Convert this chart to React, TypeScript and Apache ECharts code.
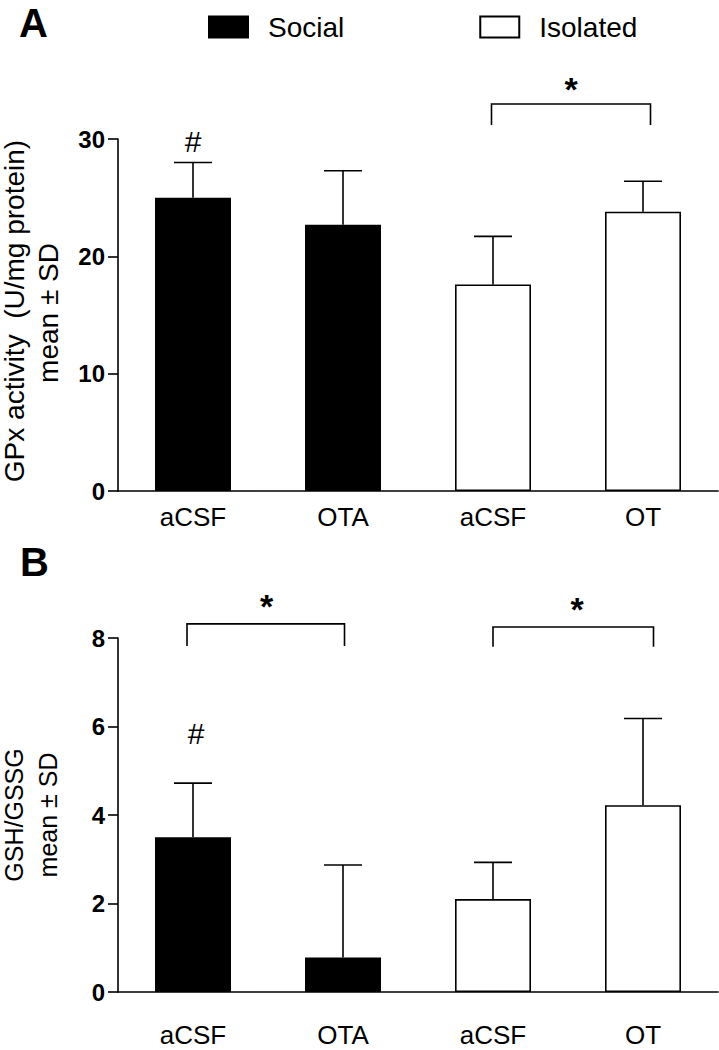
import React, { useEffect, useRef } from "react";
import * as echarts from "echarts";

const categories = ["aCSF", "OTA", "aCSF", "OT"];
const gpxSocial = [25.0, 22.7, "-", "-"];
const gpxIsolated = ["-", "-", 17.6, 23.8];
const gpxMean = [25.0, 22.7, 17.6, 23.8];
const gpxSD = [3.0, 4.6, 4.1, 2.6];
const gshSocial = [3.5, 0.78, "-", "-"];
const gshIsolated = ["-", "-", 2.1, 4.22];
const gshMean = [3.5, 0.78, 2.1, 4.22];
const gshSD = [1.22, 2.09, 0.83, 1.96];
const gpxTicks = { min: 0, max: 30, interval: 10 };
const gshTicks = { min: 0, max: 8, interval: 2 };
// brackets: [from index, to index, top value, foot value]
const gpxBrackets = [[1.99, 3.05, 32.98, 31.19]];
const gshBrackets = [
  [-0.04, 1.01, 8.32, 7.82],
  [2.0, 3.07, 8.25, 7.8],
];
// marks: [x index, value, text]
const gpxMarks: [number, number, string][] = [
  [0, 29.75, "#"],
  [2.52, 34.3, "*"],
];
const gshMarks: [number, number, string][] = [
  [0.02, 5.85, "#"],
  [0.49, 8.72, "*"],
  [2.56, 8.66, "*"],
];

const FONT = "'Liberation Sans', Arial, sans-serif";

function xAt(api: any, f: number, y: number) {
  const r = Math.round(f);
  const band = api.size([1, 0])[0];
  const p = api.coord([r, y]);
  return [p[0] + (f - r) * band, p[1]];
}

function errSeries(idx: number, mean: number[], sd: number[]) {
  return {
    type: "custom",
    xAxisIndex: idx,
    yAxisIndex: idx,
    z: 5,
    data: mean.map((m, i) => [i, m, sd[i]]),
    renderItem: (params: any, api: any) => {
      const x = api.value(0);
      const m = api.value(1);
      const s = api.value(2);
      const p0 = api.coord([x, m]);
      const p1 = api.coord([x, m + s]);
      const st = { stroke: "#000", lineWidth: 1.6 };
      return {
        type: "group",
        children: [
          { type: "line", shape: { x1: p0[0], y1: p0[1], x2: p1[0], y2: p1[1] }, style: st },
          { type: "line", shape: { x1: p1[0] - 19, y1: p1[1], x2: p1[0] + 19, y2: p1[1] }, style: st },
        ],
      };
    },
  };
}

function bracketSeries(idx: number, brackets: number[][]) {
  return {
    type: "custom",
    xAxisIndex: idx,
    yAxisIndex: idx,
    z: 5,
    data: brackets,
    renderItem: (params: any, api: any) => {
      const b = brackets[params.dataIndex];
      const a1 = xAt(api, b[0], b[2]);
      const a2 = xAt(api, b[1], b[2]);
      const f1 = xAt(api, b[0], b[3]);
      const f2 = xAt(api, b[1], b[3]);
      return {
        type: "polyline",
        shape: { points: [[f1[0], f1[1]], [a1[0], a1[1]], [a2[0], a2[1]], [f2[0], f2[1]]] },
        style: { stroke: "#000", lineWidth: 1.6, fill: null },
      };
    },
  };
}

function markSeries(idx: number, marks: [number, number, string][]) {
  return {
    type: "custom",
    xAxisIndex: idx,
    yAxisIndex: idx,
    z: 6,
    data: marks.map((m) => [m[0], m[1]]),
    renderItem: (params: any, api: any) => {
      const mk = marks[params.dataIndex];
      const p = xAt(api, mk[0], mk[1]);
      const star = mk[2] === "*";
      return {
        type: "text",
        x: p[0],
        y: p[1],
        style: {
          text: mk[2],
          fontSize: star ? 34 : 30,
          fontWeight: star ? "bold" : "normal",
          fontFamily: FONT,
          fill: "#000",
          align: "center",
          verticalAlign: "middle",
        },
      };
    },
  };
}

function barSeries(idx: number, name: string, data: any[], fill: string) {
  return {
    type: "bar",
    name,
    xAxisIndex: idx,
    yAxisIndex: idx,
    data,
    barWidth: 76,
    barGap: "-100%",
    itemStyle: { color: fill, borderColor: "#000", borderWidth: 1.6 },
  };
}

function xAxis(idx: number, tickLen: number, margin: number) {
  return {
    type: "category",
    gridIndex: idx,
    data: categories,
    axisLine: { lineStyle: { color: "#000", width: 1.6 } },
    axisTick: { alignWithLabel: true, length: tickLen, lineStyle: { color: "#000", width: 1.6 } },
    axisLabel: { color: "#000", fontSize: 26, fontFamily: FONT, margin, interval: 0 },
  };
}

function yAxis(idx: number, t: { min: number; max: number; interval: number }) {
  return {
    type: "value",
    gridIndex: idx,
    min: t.min,
    max: t.max,
    interval: t.interval,
    splitLine: { show: false },
    axisLine: { show: true, lineStyle: { color: "#000", width: 1.6 } },
    axisTick: { show: true, length: 10, lineStyle: { color: "#000", width: 1.6 } },
    axisLabel: { color: "#000", fontSize: 24, fontWeight: "bold", fontFamily: FONT, margin: 13 },
  };
}

export default function App() {
  const ref = useRef<HTMLDivElement>(null);
  useEffect(() => {
    const chart = echarts.init(ref.current!, null, { renderer: "svg" });
    chart.setOption({
      animation: false,
      backgroundColor: "#fff",
      grid: [
        { left: 118, top: 139, width: 600, height: 352 },
        { left: 118, top: 638, width: 600, height: 354 },
      ],
      legend: {
        data: ["Social", "Isolated"],
        left: 208,
        top: 13,
        padding: 0,
        icon: "rect",
        itemWidth: 39,
        itemHeight: 21,
        itemGap: 135,
        textStyle: { fontSize: 28, fontFamily: FONT, color: "#000", padding: [0, 0, 0, 15] },
      },
      xAxis: [xAxis(0, 11, 13), xAxis(1, 10, 30)],
      yAxis: [yAxis(0, gpxTicks), yAxis(1, gshTicks)],
      series: [
        barSeries(0, "Social", gpxSocial, "#000"),
        barSeries(0, "Isolated", gpxIsolated, "#fff"),
        errSeries(0, gpxMean, gpxSD),
        bracketSeries(0, gpxBrackets),
        markSeries(0, gpxMarks),
        barSeries(1, "Social", gshSocial, "#000"),
        barSeries(1, "Isolated", gshIsolated, "#fff"),
        errSeries(1, gshMean, gshSD),
        bracketSeries(1, gshBrackets),
        markSeries(1, gshMarks),
      ],
      graphic: [
        {
          type: "text", x: 19, y: 3,
          style: { text: "A", fontSize: 40, fontWeight: "bold", fontFamily: FONT, fill: "#000" },
        },
        {
          type: "text", x: 20, y: 542,
          style: { text: "B", fontSize: 40, fontWeight: "bold", fontFamily: FONT, fill: "#000" },
        },
        {
          type: "text", x: 14, y: 311, rotation: Math.PI / 2,
          style: { text: "GPx activity  (U/mg protein)", fontSize: 28, fontFamily: FONT, fill: "#000", align: "center", verticalAlign: "middle" },
        },
        {
          type: "text", x: 48, y: 313, rotation: Math.PI / 2,
          style: { text: "mean ± SD", fontSize: 28, fontFamily: FONT, fill: "#000", align: "center", verticalAlign: "middle" },
        },
        {
          type: "text", x: 14, y: 815, rotation: Math.PI / 2,
          style: { text: "GSH/GSSG", fontSize: 25, fontFamily: FONT, fill: "#000", align: "center", verticalAlign: "middle" },
        },
        {
          type: "text", x: 48, y: 815, rotation: Math.PI / 2,
          style: { text: "mean ± SD", fontSize: 25, fontFamily: FONT, fill: "#000", align: "center", verticalAlign: "middle" },
        },
      ],
    });
    return () => chart.dispose();
  }, []);
  return (
    <div
      ref={ref}
      style={{ position: "fixed", left: 0, top: 0, width: 719, height: 1050, background: "#fff" }}
    />
  );
}
